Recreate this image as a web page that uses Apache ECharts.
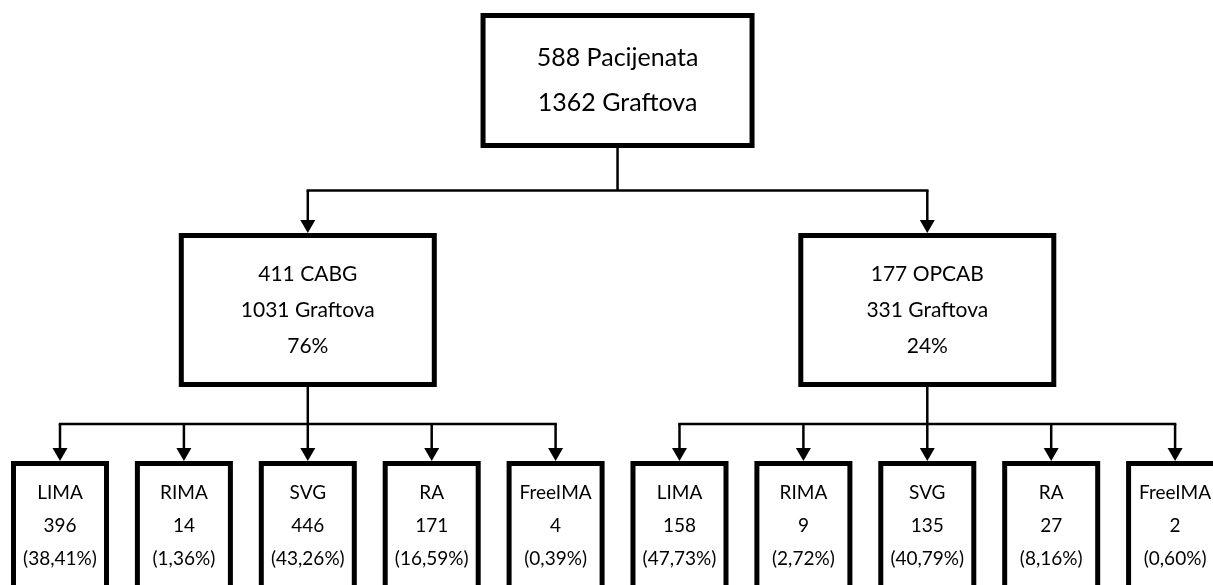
<!DOCTYPE html>
<html><head><meta charset="utf-8">
<script src="https://cdn.jsdelivr.net/npm/echarts@6/dist/echarts.min.js"></script>
<style>html,body{margin:0;padding:0;background:#fff}#c{width:1213px;height:585px}</style>
</head><body><div id="c"></div>
<script>
// ---- data ----
const rootLines = ['588 Pacijenata', '1362 Graftova'];
const groupNames = ['411 CABG', '177 OPCAB'];
const groupGrafts = ['1031 Graftova', '331 Graftova'];
const groupShares = ['76%', '24%'];
const graftTypes = ['LIMA', 'RIMA', 'SVG', 'RA', 'FreeIMA'];
const cabgCounts = [396, 14, 446, 171, 4];
const cabgShares = ['38,41%', '1,36%', '43,26%', '16,59%', '0,39%'];
const opcabCounts = [158, 9, 135, 27, 2];
const opcabShares = ['47,73%', '2,72%', '40,79%', '8,16%', '0,60%'];

// ---- layout / style ----
const FONT = 'Lato, "Noto Sans", sans-serif';
const LEVELS = [
  {top: 13, h: 135, w: 274, fontSize: 25, lh: 45},
  {top: 233, h: 154, w: 258, fontSize: 21, lh: 36},
  {top: 461, h: 130, w: 98, fontSize: 19, lh: 33}
];
const BORDER = 5, LINK = 2.5, ARROW_W = 15, ARROW_H = 13;

// ---- build tree ----
const counts = [cabgCounts, opcabCounts];
const shares = [cabgShares, opcabShares];
const tree = {
  lines: rootLines,
  children: groupNames.map((g, gi) => ({
    lines: [g, groupGrafts[gi], groupShares[gi]],
    children: graftTypes.map((t, ti) => ({
      lines: [t, String(counts[gi][ti]), '(' + shares[gi][ti] + ')']
    }))
  }))
};
const nodes = [];
let leafSlot = 0;
function layout(n, level) {
  n.level = level;
  n.idx = nodes.length;
  nodes.push(n);
  if (n.children) {
    n.children.forEach(c => layout(c, level + 1));
    n.slot = n.children.reduce((s, c) => s + c.slot, 0) / n.children.length;
  } else {
    n.slot = leafSlot++;
  }
}
layout(tree, 0);

function renderItem(params, api) {
  const n = nodes[api.value(2)];
  const L = LEVELS[n.level];
  const p = api.coord([n.slot, L.top]);
  const cx = p[0], top = p[1];
  const els = [];
  els.push({
    type: 'rect',
    shape: {x: cx - L.w / 2 + BORDER / 2, y: top + BORDER / 2, width: L.w - BORDER, height: L.h - BORDER},
    style: {fill: '#fff', stroke: '#000', lineWidth: BORDER}
  });
  els.push({
    type: 'text',
    style: {
      text: n.lines.join('\n'), x: cx, y: top + L.h / 2,
      align: 'center', verticalAlign: 'middle',
      fontSize: L.fontSize, fontFamily: FONT, lineHeight: L.lh, fill: '#000'
    }
  });
  if (n.children) {
    const CL = LEVELS[n.level + 1];
    const bottom = top + L.h;
    const childTop = api.coord([0, CL.top])[1];
    const busY = (bottom + childTop) / 2;
    const xs = n.children.map(c => api.coord([c.slot, CL.top])[0]);
    const lineStyle = {stroke: '#000', lineWidth: LINK, fill: null};
    els.push({type: 'line', shape: {x1: cx, y1: bottom, x2: cx, y2: busY}, style: lineStyle});
    els.push({type: 'line', shape: {x1: Math.min(...xs) - LINK / 2, y1: busY, x2: Math.max(...xs) + LINK / 2, y2: busY}, style: lineStyle});
    xs.forEach(x => {
      els.push({type: 'line', shape: {x1: x, y1: busY, x2: x, y2: childTop - ARROW_H + 1}, style: lineStyle});
      els.push({type: 'polygon', shape: {points: [[x - ARROW_W / 2, childTop - ARROW_H], [x + ARROW_W / 2, childTop - ARROW_H], [x, childTop]]}, style: {fill: '#000'}});
    });
  }
  return {type: 'group', children: els};
}

const chart = echarts.init(document.getElementById('c'), null, {renderer: 'canvas'});
chart.setOption({
  animation: false,
  backgroundColor: '#fff',
  grid: {left: 0, right: 0, top: 0, bottom: 0},
  xAxis: {type: 'value', min: -0.4843, max: 9.306, show: false},
  yAxis: {type: 'value', min: 0, max: 585, inverse: true, show: false},
  series: [{
    type: 'custom',
    renderItem: renderItem,
    data: nodes.map(n => [n.slot, LEVELS[n.level].top, n.idx]),
    clip: false
  }]
});
</script></body></html>
